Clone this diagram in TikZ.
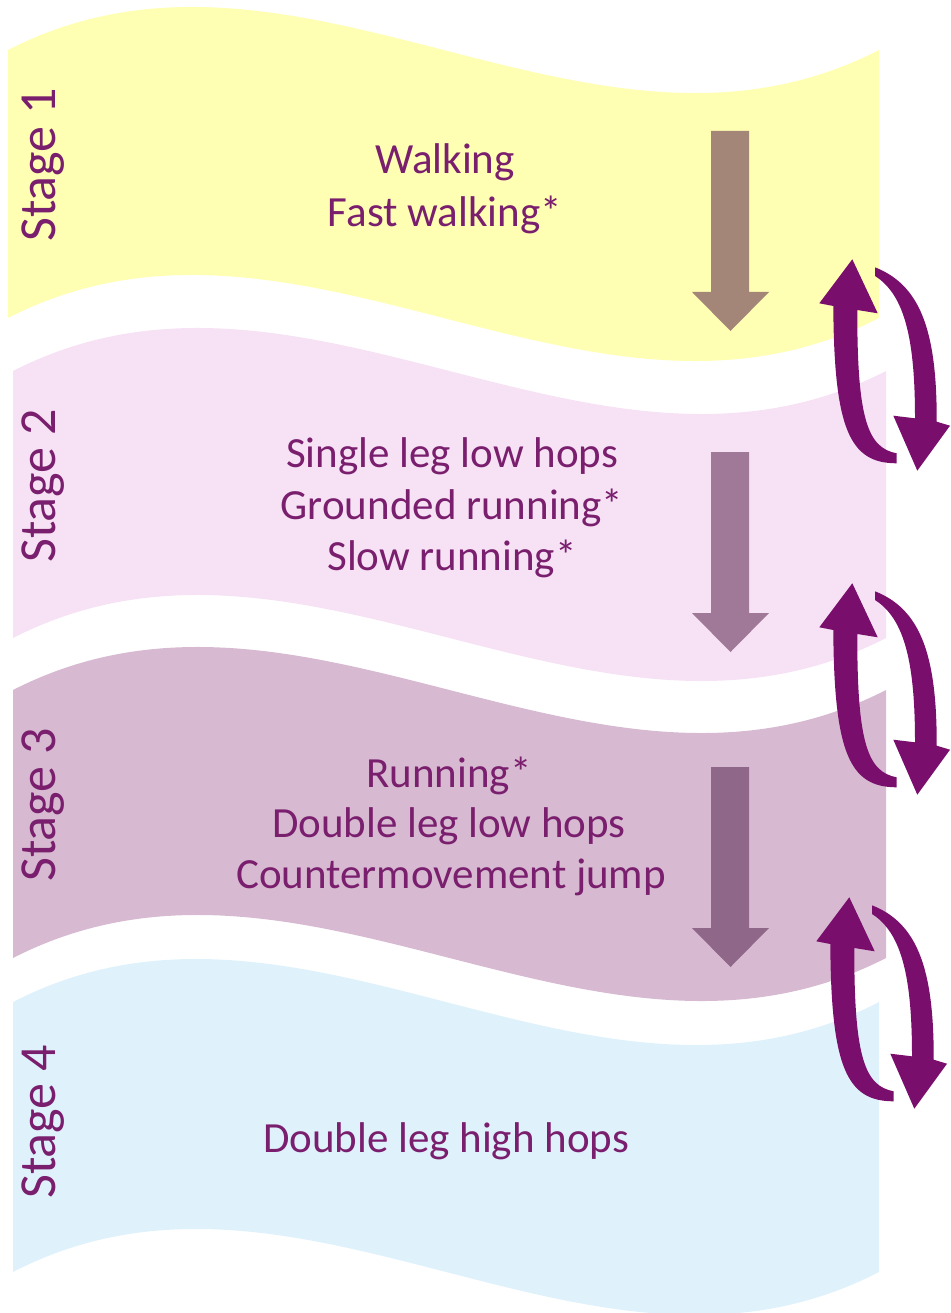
\documentclass[tikz,border=0pt]{standalone}
\usepackage{fontspec}
\setmainfont{Carlito}
\definecolor{bandA}{HTML}{FFFFB3}
\definecolor{bandB}{HTML}{F6E2F4}
\definecolor{bandC}{HTML}{D7BAD1}
\definecolor{bandD}{HTML}{DFF2FC}
\definecolor{txt}{HTML}{7A1E6E}
\definecolor{loop}{HTML}{7A0E6C}
\definecolor{downA}{HTML}{A48679}
\definecolor{downB}{HTML}{A07898}
\definecolor{downC}{HTML}{8F6789}
\tikzset{
  item/.style={text=txt, font=\fontsize{43}{52}\selectfont, anchor=base, inner sep=0pt},
  stagelbl/.style={text=txt, font=\fontsize{52}{60}\selectfont, anchor=base, rotate=90, inner sep=0pt},
  looparrow/.style={fill=loop, draw=none},
}
\newcommand\downarrowshape[2]{%
  \fill[#1] (711,#2) -- (749,#2) -- (749,#2+161) -- (769,#2+161) -- (730.5,#2+200)
    -- (692,#2+161) -- (711,#2+161) -- cycle;}
\newcommand\looppair{%
  \fill[looparrow] (896.7,453.3) .. controls (868,448) and (857,420) .. (857.3,310)
    -- (877.7,313.3) -- (852.3,259.3) -- (819.3,303.3) -- (833.3,306)
    .. controls (834,430) and (850,463.3) .. (896.7,463.3) -- cycle;
  \fill[looparrow] (875,267.3) .. controls (920,285) and (937,330) .. (936.7,421.7)
    -- (950,425.7) -- (917.3,470.7) -- (893.3,415.7) -- (915,418.3)
    .. controls (915,340) and (905,295) .. (875,276) -- cycle;}
\begin{document}
\begin{tikzpicture}[x=1pt,y=-1pt]
\useasboundingbox (0,0) rectangle (950,1313);
% bands
\fill[bandA] (8,50) .. controls (298.3,-99) and (588.7,199) .. (879,50) -- (879,318)
  .. controls (588.7,467) and (298.3,169) .. (8,318) -- cycle;
\fill[bandB] (13,371) .. controls (304,222) and (595,520) .. (886,371) -- (886,638)
  .. controls (595,787) and (304,489) .. (13,638) -- cycle;
\fill[bandC] (13,690) .. controls (304,541) and (595,839) .. (886,690) -- (886,958)
  .. controls (595,1107) and (304,809) .. (13,958) -- cycle;
\fill[bandD] (13,1002) .. controls (301.7,853) and (590.3,1151) .. (879,1002) -- (879,1272)
  .. controls (590.3,1421) and (301.7,1123) .. (13,1272) -- cycle;
% down arrows
\downarrowshape{downA}{131}
\downarrowshape{downB}{452}
\downarrowshape{downC}{767}
% loop arrows
\looppair
\begin{scope}[shift={(0,324)}]\looppair\end{scope}
\begin{scope}[shift={(-3,638)}]\looppair\end{scope}
% stage labels
\node[stagelbl] (s1) at (55,165) {Stage 1};
\node[stagelbl] (s2) at (55,486) {Stage 2};
\node[stagelbl] (s3) at (55,805) {Stage 3};
\node[stagelbl] (s4) at (55,1122) {Stage 4};
% items
\node[item] (a1) at (445,174) {Walking};
\node[item] (a2) at (445,227) {Fast walking*};
\node[item] (b1) at (452,467) {Single leg low hops};
\node[item] (b2) at (452,519) {Grounded running*};
\node[item] (b3) at (452,570) {Slow running*};
\node[item] (c1) at (449,787) {Running*};
\node[item] (c2) at (449,837) {Double leg low hops};
\node[item] (c3) at (451,888) {Countermovement jump};
\node[item] (d1) at (446,1152) {Double leg high hops};
\end{tikzpicture}
\end{document}
